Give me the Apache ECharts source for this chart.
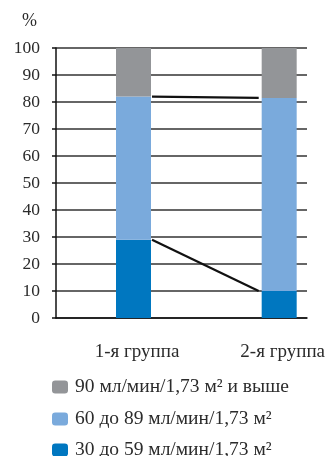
<!DOCTYPE html>
<html><head><meta charset="utf-8">
<script src="https://cdn.jsdelivr.net/npm/echarts@6/dist/echarts.min.js"></script>
<style>html,body{margin:0;padding:0;background:#fff}#c{width:328px;height:456px}</style>
</head><body><div id="c"></div>
<script>
const categories = ['1-я группа', '2-я группа'];
const seriesNames = ['90 мл/мин/1,73 м² и выше', '60 до 89 мл/мин/1,73 м²', '30 до 59 мл/мин/1,73 м²'];
const dark = [29, 10];      // 30 до 59
const light = [53, 71.5];   // 60 до 89
const grey = [18, 18.5];    // 90 и выше
const yTicks = [0, 100, 10];

const upper = dark.map((d, i) => d + light[i]);
const lower = dark.slice();
const BW = 35;
const font = '"Liberation Serif", "DejaVu Serif", serif';
const txt = '#2b2b2b';
const legendTops = [377, 409, 440];

const chart = echarts.init(document.getElementById('c'), null, {renderer: 'canvas'});
chart.setOption({
  animation: false,
  title: {text: '%', left: 22, top: 12, padding: 0, textStyle: {fontFamily: font, fontSize: 18, fontWeight: 'normal', color: txt}},
  grid: [
    {left: 56, right: 21, top: 48, bottom: 138},
    {left: 133.5, right: 47.5, top: 48, bottom: 138}
  ],
  xAxis: [
    {type: 'category', gridIndex: 0, data: categories, axisLine: {show: true, lineStyle: {color: '#111', width: 1.5}},
     axisTick: {show: false}, axisLabel: {show: false}},
    {type: 'category', gridIndex: 1, data: categories, boundaryGap: false, axisLine: {show: false}, axisTick: {show: false},
     splitLine: {show: false},
     axisLabel: {fontFamily: font, fontSize: 19, color: txt, margin: 25, padding: [0, 0, 0, 7]}}
  ],
  yAxis: [
    {type: 'value', gridIndex: 0, min: yTicks[0], max: yTicks[1], interval: yTicks[2],
     axisLine: {show: true, lineStyle: {color: '#111', width: 1.5}},
     axisTick: {show: true, length: 4, lineStyle: {color: '#111', width: 1.5}},
     axisLabel: {fontFamily: font, fontSize: 17.5, color: txt, margin: 16},
     splitLine: {show: true, lineStyle: {color: '#333', width: 1.5}}},
    {type: 'value', gridIndex: 1, min: yTicks[0], max: yTicks[1], interval: yTicks[2], show: false}
  ],
  legend: seriesNames.map((n, i) => ({
    orient: 'vertical', left: 52, top: legendTops[i], itemWidth: 16, itemHeight: 13, padding: 0,
    data: [n],
    textStyle: {fontFamily: font, fontSize: 19.5, color: txt, padding: [0, 0, 0, 2]}
  })),
  series: [
    {name: seriesNames[2], type: 'bar', stack: 's', xAxisIndex: 1, yAxisIndex: 1, barWidth: BW, data: dark, itemStyle: {color: '#0077c0'}},
    {name: seriesNames[1], type: 'bar', stack: 's', xAxisIndex: 1, yAxisIndex: 1, barWidth: BW, data: light, itemStyle: {color: '#7aaadc'}},
    {name: seriesNames[0], type: 'bar', stack: 's', xAxisIndex: 1, yAxisIndex: 1, barWidth: BW, data: grey, itemStyle: {color: '#939598'}},
    {type: 'custom', xAxisIndex: 1, yAxisIndex: 1, z: 5,
     data: [upper, lower],
     encode: {x: -1, y: [0, 1]},
     renderItem: function (params, api) {
       const p1 = api.coord([0, api.value(0)]);
       const p2 = api.coord([1, api.value(1)]);
       return {type: 'line', shape: {x1: p1[0] + BW / 2 + 1, y1: p1[1], x2: p2[0] - BW / 2 - 3, y2: p2[1]},
               style: {stroke: '#111', lineWidth: 2.2}};
     }}
  ]
});
</script></body></html>
